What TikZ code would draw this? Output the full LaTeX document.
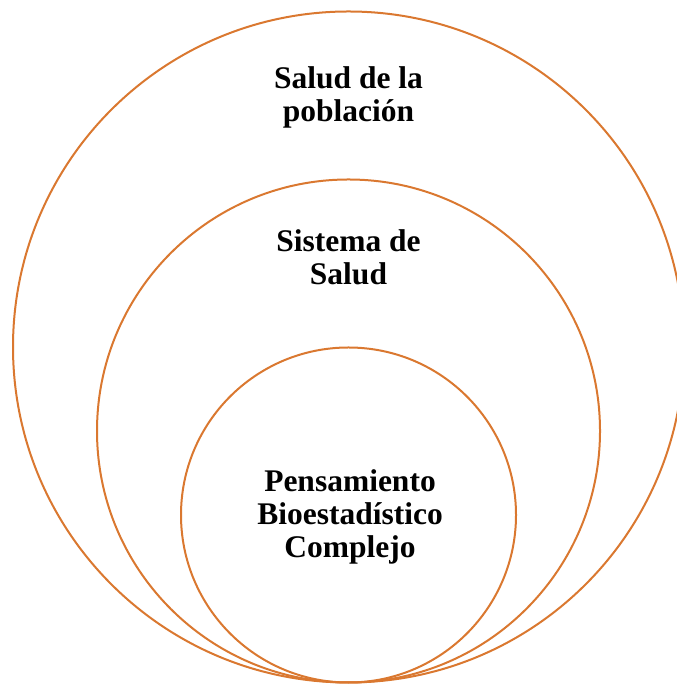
\documentclass[tikz,border=0pt]{standalone}
\usepackage{fontspec}
\setmainfont{Liberation Serif}
\definecolor{ringorange}{RGB}{218,120,48}
\begin{document}
\begin{tikzpicture}[x=1pt,y=1pt,
  ring/.style={draw=ringorange,line width=2pt},
  label/.style={font=\bfseries\fontsize{31.5}{33}\selectfont,align=center,anchor=base,inner sep=0pt}]
\useasboundingbox (0,0) rectangle (676,684);
\draw[ring] (348.5,337) circle (335.5);
\draw[ring] (348.5,253) circle (251.5);
\draw[ring] (348.5,169) circle (167.5);
\node[label] (outer) at (348.5,562) {Salud de la\\población};
\node[label] (middle) at (348.5,399) {Sistema de\\Salud};
\node[label] (inner) at (350,126) {Pensamiento\\Bioestadístico\\Complejo};
\end{tikzpicture}
\end{document}
